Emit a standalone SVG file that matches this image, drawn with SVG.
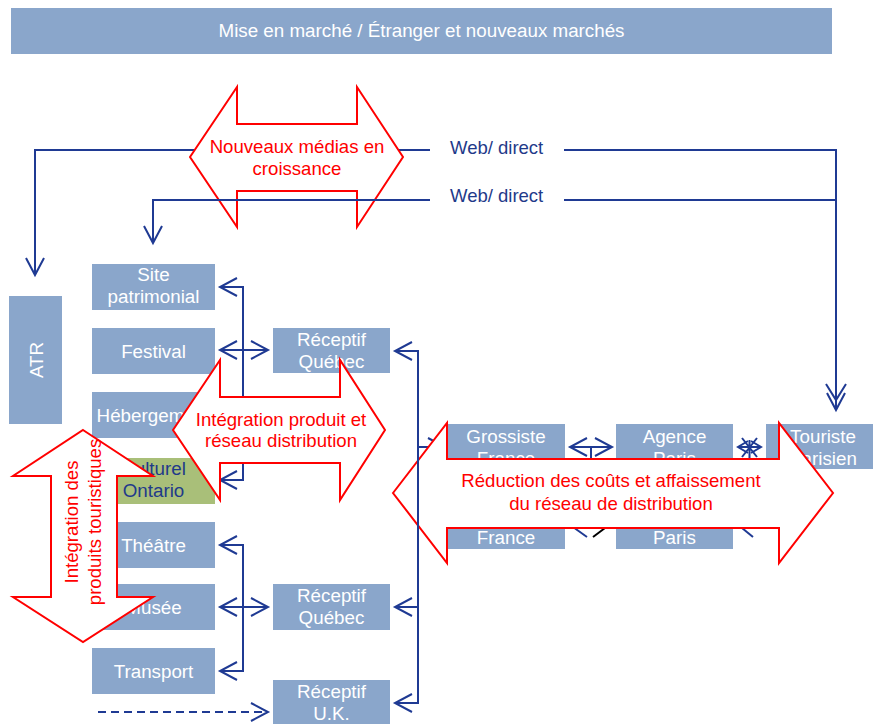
<svg xmlns="http://www.w3.org/2000/svg" width="873" height="724" viewBox="0 0 873 724">
<style>
.nd{fill:#8aa6cb}
.gr{fill:#a9bf79}
.t{font-family:"Liberation Sans",Arial,sans-serif;font-size:18.8px;fill:#ffffff;text-anchor:middle}
.td{font-family:"Liberation Sans",Arial,sans-serif;font-size:18.8px;fill:#1f3a8a;text-anchor:middle}
.wb{font-family:"Liberation Sans",Arial,sans-serif;font-size:18.5px;fill:#1f3a8a}
.rt{font-family:"Liberation Sans",Arial,sans-serif;font-size:18.6px;fill:#ff0000;text-anchor:middle}
.ln{fill:none;stroke:#1f3a93;stroke-width:2}
.ar{fill:#ffffff;stroke:#ff0000;stroke-width:2}
</style>
<defs>
<marker id="ch" markerUnits="userSpaceOnUse" viewBox="-19 -11 22 22" markerWidth="22" markerHeight="22" refX="0" refY="0" orient="auto-start-reverse">
<path d="M-17,-9 L0,0 L-17,9" fill="none" stroke="#1f3a93" stroke-width="2"/>
</marker>
<marker id="chs" markerUnits="userSpaceOnUse" viewBox="-12 -8 14 16" markerWidth="14" markerHeight="16" refX="0" refY="0" orient="auto-start-reverse">
<path d="M-10,-6 L0,0 L-10,6" fill="none" stroke="#1f3a93" stroke-width="2"/>
</marker>
</defs>

<g id="title">
<rect x="11" y="8" width="821" height="46" class="nd"/>
<text x="421.5" y="37" class="t" font-size="17" textLength="406" lengthAdjust="spacingAndGlyphs">Mise en marché / Étranger et nouveaux marchés</text>
</g>

<g id="connectors-under">
<path class="ln" d="M430,150 H35 V275" marker-end="url(#ch)"/>
<path class="ln" d="M220,287 H243 V480 H220" marker-start="url(#ch)" marker-end="url(#ch)"/>
<path class="ln" d="M220,350 H268" marker-start="url(#ch)" marker-end="url(#ch)"/>
<path class="ln" d="M220,545 H243 V671 H220" marker-start="url(#ch)" marker-end="url(#ch)"/>
<path class="ln" d="M220,607 H268" marker-start="url(#ch)" marker-end="url(#ch)"/>
<path class="ln" d="M98,712 H268" stroke-dasharray="8,5" marker-end="url(#ch)"/>
<path class="ln" d="M418,447 H445" marker-end="url(#ch)"/>
<path class="ln" d="M570,447 H612" marker-start="url(#ch)" marker-end="url(#ch)"/>
<path class="ln" d="M591,447 V470"/>
<path class="ln" d="M573,527 L587,537"/>
<path d="M593,537 L605,528" fill="none" stroke="#000000" stroke-width="2"/>
<path class="ln" d="M742,528 L753,537"/>
<path class="ln" d="M738,447 H761" marker-start="url(#chs)" marker-end="url(#chs)"/>
<path class="ln" d="M742,438 L757,457 M757,438 L742,457 M749.5,440 V462"/>
</g>

<g id="atr">
<rect x="9" y="296" width="53" height="128" class="nd"/>
<text transform="translate(43,360) rotate(-90)" class="t" font-size="21">ATR</text>
</g>
<g id="site-patrimonial">
<rect x="92" y="264" width="123" height="46" class="nd"/>
<text x="153.5" y="281" class="t">Site</text>
<text x="153.5" y="303" class="t">patrimonial</text>
</g>
<g id="festival">
<rect x="92" y="328" width="123" height="46" class="nd"/>
<text x="153.5" y="357.5" class="t">Festival</text>
</g>
<g id="hebergement">
<rect x="92" y="392" width="123" height="46" class="nd"/>
<text x="153.5" y="421.5" class="t">Hébergement</text>
</g>
<g id="culturel-ontario">
<rect x="92" y="458" width="123" height="46" class="gr"/>
<text x="153.5" y="475" class="td">Culturel</text>
<text x="153.5" y="497" class="td">Ontario</text>
</g>
<g id="theatre">
<rect x="92" y="522" width="123" height="46" class="nd"/>
<text x="153.5" y="551.5" class="t">Théâtre</text>
</g>
<g id="musee">
<rect x="92" y="584" width="123" height="46" class="nd"/>
<text x="153.5" y="613.5" class="t">Musée</text>
</g>
<g id="transport">
<rect x="92" y="648" width="123" height="46" class="nd"/>
<text x="153.5" y="677.5" class="t">Transport</text>
</g>
<g id="receptif-quebec-1">
<rect x="273" y="328" width="117" height="45" class="nd"/>
<text x="331.5" y="346" class="t">Réceptif</text>
<text x="331.5" y="368" class="t">Québec</text>
</g>
<g id="receptif-quebec-2">
<rect x="273" y="584" width="117" height="46" class="nd"/>
<text x="331.5" y="602" class="t">Réceptif</text>
<text x="331.5" y="624" class="t">Québec</text>
</g>
<g id="receptif-uk">
<rect x="273" y="680" width="117" height="46" class="nd"/>
<text x="331.5" y="698" class="t">Réceptif</text>
<text x="331.5" y="720" class="t">U.K.</text>
</g>
<g id="grossiste-france">
<rect x="447" y="424" width="118" height="46" class="nd"/>
<text x="506" y="443" class="t">Grossiste</text>
<text x="506" y="465" class="t">France</text>
</g>
<g id="france-2">
<rect x="447" y="503" width="118" height="46" class="nd"/>
<text x="506" y="544" class="t">France</text>
</g>
<g id="agence-paris">
<rect x="616" y="424" width="117" height="46" class="nd"/>
<text x="674.5" y="443" class="t">Agence</text>
<text x="674.5" y="465" class="t">Paris</text>
</g>
<g id="paris-2">
<rect x="616" y="503" width="117" height="46" class="nd"/>
<text x="674.5" y="544" class="t">Paris</text>
</g>
<g id="touriste-parisien">
<rect x="766" y="424" width="110" height="45" class="nd"/>
<text x="823" y="443" class="t">Touriste</text>
<text x="823" y="465" class="t">Parisien</text>
</g>

<g id="arrow-nouveaux-medias">
<path class="ar" d="M190,157 L237,87 L237,124 L357,124 L357,87 L403,157 L357,227 L357,191 L237,191 L237,227 Z"/>
<text x="297" y="153" class="rt">Nouveaux médias en</text>
<text x="297" y="175" class="rt">croissance</text>
</g>
<g id="arrow-integration-produit">
<path class="ar" d="M173,430 L220,360 L220,397 L340,397 L340,360 L385,430 L340,500 L340,463 L220,463 L220,500 Z"/>
<text x="281" y="426" class="rt">Intégration produit et</text>
<text x="281" y="447" class="rt">réseau distribution</text>
</g>
<g id="arrow-integration-touristiques">
<path class="ar" d="M83,430 L153,476 L117,476 L117,597 L153,597 L83,642 L13,597 L51,597 L51,476 L13,476 Z"/>
<text transform="translate(78,522) rotate(-90)" class="rt">Intégration des</text>
<text transform="translate(101,522) rotate(-90)" class="rt">produits touristiques</text>
</g>
<g id="arrow-reduction">
<path class="ar" d="M393,493 L447,423 L447,459 L779,459 L779,423 L833,493 L779,563 L779,528 L447,528 L447,563 Z"/>
<text x="611" y="487" class="rt">Réduction des coûts et affaissement</text>
<text x="611" y="510" class="rt">du réseau de distribution</text>
</g>

<g id="connectors-over">
<path class="ln" d="M430,200 H153 V243" marker-end="url(#ch)"/>
<path class="ln" d="M564,150 H836 V410" marker-end="url(#ch)"/>
<path class="ln" d="M826,384 L836,400 L846,384"/>
<path class="ln" d="M564,200 H836"/>
<path class="ln" d="M395,351 H418 V703 H395" marker-start="url(#ch)" marker-end="url(#ch)"/>
<path class="ln" d="M418,607 H395" marker-end="url(#ch)"/>
<text x="450" y="154" class="wb">Web/ direct</text>
<text x="450" y="202" class="wb">Web/ direct</text>
</g>
</svg>
